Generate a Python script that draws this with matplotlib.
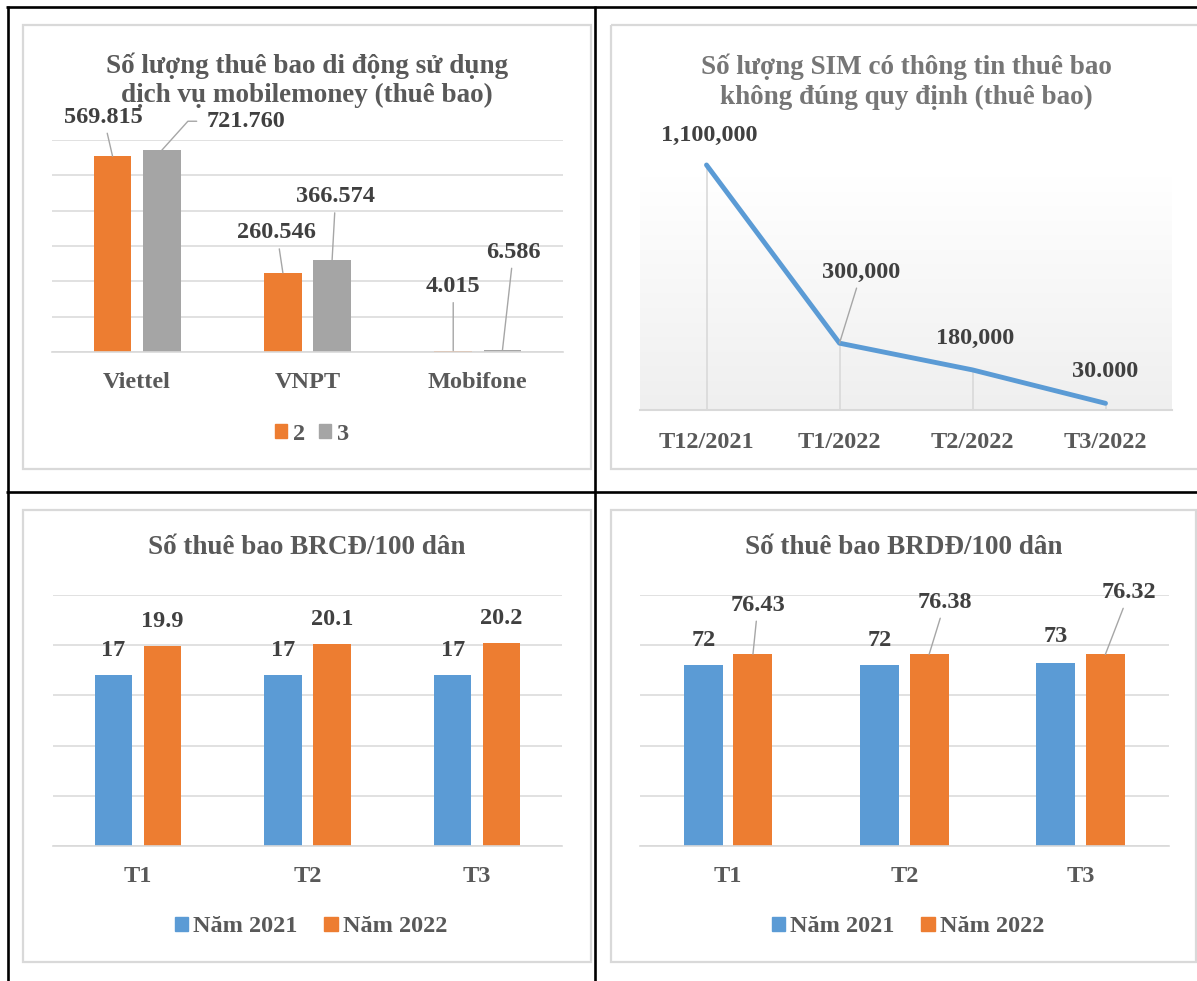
import matplotlib
matplotlib.use('Agg')
import matplotlib.pyplot as plt
import numpy as np
from matplotlib.patches import Patch, Rectangle
from matplotlib.colors import LinearSegmentedColormap

# ---------------- data ----------------
# Chart 1: mobile-money subscribers (bar heights, hidden axis units)
mm_categories = ['Viettel', 'VNPT', 'Mobifone']
mm_series = ['2', '3']
mm_heights_2 = [5.54, 2.24, 0.04]
mm_heights_3 = [5.71, 2.61, 0.05]
mm_labels_2 = ['569.815', '260.546', '4.015']
mm_labels_3 = ['721.760', '366.574', '6.586']

# Chart 2: SIMs with incorrect subscriber info
sim_months = ['T12/2021', 'T1/2022', 'T2/2022', 'T3/2022']
sim_values = [1100000, 300000, 180000, 30000]
sim_labels = ['1,100,000', '300,000', '180,000', '30.000']

# Chart 3 / 4
months = ['T1', 'T2', 'T3']
year_names = ['Năm 2021', 'Năm 2022']
brcd_2021 = [17, 17, 17]
brcd_2022 = [19.9, 20.1, 20.2]
brdd_2021 = [72, 72, 73]
brdd_2022 = [76.43, 76.38, 76.32]

# ---------------- style ----------------
ORANGE = '#ED7D31'
GREY = '#A5A5A5'
BLUE = '#5B9BD5'
GRID = '#D9D9D9'
TXT = '#595959'
LBL = '#404040'
LEADER = '#A6A6A6'
FS_TITLE = 19.5
FS = 17.5

plt.rcParams['font.family'] = ['Liberation Serif', 'DejaVu Serif']
plt.rcParams['font.weight'] = 'bold'

W, H = 1197, 981
fig = plt.figure(figsize=(W / 100, H / 100), dpi=100)
fig.patch.set_facecolor('white')

bg = fig.add_axes([0, 0, 1, 1])
bg.axis('off')


def axes_px(x0, y0, x1, y1):
    ax = fig.add_axes([x0 / W, 1 - y1 / H, (x1 - x0) / W, (y1 - y0) / H])
    ax.set_facecolor('none')
    return ax


def style_axes(ax, pad=14.5):
    for s in ['top', 'left', 'right']:
        ax.spines[s].set_visible(False)
    ax.spines['bottom'].set_color(GRID)
    ax.spines['bottom'].set_linewidth(1.2)
    ax.tick_params(axis='y', length=0, labelleft=False)
    ax.tick_params(axis='x', length=0, pad=pad, labelsize=FS, labelcolor=TXT)


def bar_chart(ax, cats, s1, s2, c1, c2, ymax, step, width, gap):
    x = np.arange(len(cats))
    off = (width + gap) / 2
    ax.bar(x - off, s1, width, color=c1, zorder=2)
    ax.bar(x + off, s2, width, color=c2, zorder=2)
    ax.set_xlim(-0.5, len(cats) - 0.5)
    ax.set_ylim(0, ymax)
    ax.set_yticks(np.arange(0, ymax + step / 2, step))
    ax.yaxis.grid(True, color=GRID, lw=1.1)
    ax.set_axisbelow(True)
    ax.set_xticks(x, cats)
    style_axes(ax)
    return x - off, x + off


def label(ax, x, y, text, dx, dy, leader=False, conn=None, relpos=(0.5, 0.5), shrinkA=2):
    arrow = None
    if leader:
        arrow = dict(arrowstyle='-', color=LEADER, lw=1.0, shrinkA=shrinkA, shrinkB=0,
                     relpos=relpos)
        if conn:
            arrow['connectionstyle'] = conn
    ax.annotate(text, xy=(x, y), xytext=(dx, dy), textcoords='offset pixels',
                ha='center', va='center', fontsize=FS, color=LBL, fontweight='bold',
                arrowprops=arrow, annotation_clip=False, zorder=5)


# ---------------- Chart 1 ----------------
ax1 = axes_px(52, 140, 563, 352)
x2, x3 = bar_chart(ax1, mm_categories, mm_heights_2, mm_heights_3, ORANGE, GREY,
                   6, 1, 0.22, 0.069)
off_2 = [(-9, 39), (-6, 40), (0, 64)]
off_3 = [(84, 29), (3.5, 63), (11, 98)]
for i in range(3):
    label(ax1, x2[i], mm_heights_2[i], mm_labels_2[i], *off_2[i], leader=True)
    if i == 0:
        label(ax1, x3[i], mm_heights_3[i], mm_labels_3[i], *off_3[i], leader=True,
              conn='angle,angleA=0,angleB=48,rad=0', relpos=(0, 0.5), shrinkA=5)
    else:
        label(ax1, x3[i], mm_heights_3[i], mm_labels_3[i], *off_3[i], leader=True)
fig.legend([Patch(color=ORANGE), Patch(color=GREY)], mm_series, loc='center',
           bbox_to_anchor=(312 / W, 1 - 434 / H), ncol=2, frameon=False,
           handlelength=0.5, handleheight=0.5, handletextpad=0.25, columnspacing=0.55,
           prop=dict(size=FS, weight='bold'), labelcolor=TXT)

# ---------------- Chart 2 ----------------
ax2 = axes_px(640, 177, 1172, 410)
xs = np.arange(len(sim_months))
grad = np.linspace(0, 1, 256).reshape(-1, 1)
cmap = LinearSegmentedColormap.from_list('g', ['#FFFFFF', '#EFEFEF'])
ax2.imshow(grad, extent=[0, 1, 0, 1], transform=ax2.transAxes, aspect='auto',
           cmap=cmap, origin='upper', zorder=0)
ax2.vlines(xs, 0, sim_values, color=GRID, lw=1.2, clip_on=False, zorder=1)
ax2.plot(xs, sim_values, color=BLUE, lw=3.5, solid_capstyle='round',
         solid_joinstyle='round', clip_on=False, zorder=3)
ax2.set_xlim(-0.5, len(sim_months) - 0.5)
ax2.set_ylim(0, 1.046e6)
ax2.set_yticks([])
ax2.set_xticks(xs, sim_months)
style_axes(ax2, pad=15.5)
ax2.spines['bottom'].set_linewidth(1.5)
off_sim = [(3, 30), (22, 71), (3, 31), (0, 32)]
for i in range(4):
    label(ax2, xs[i], sim_values[i], sim_labels[i], *off_sim[i], leader=(i == 1))

# ---------------- Chart 3 ----------------
ax3 = axes_px(53, 595, 562, 846)
b1, b2 = bar_chart(ax3, months, brcd_2021, brcd_2022, BLUE, ORANGE, 25, 5, 0.22, 0.069)
for i in range(3):
    label(ax3, b1[i], brcd_2021[i], f'{brcd_2021[i]:g}', 0, 25)
    label(ax3, b2[i], brcd_2022[i], f'{brcd_2022[i]:g}', 0, 25)
fig.legend([Patch(color=BLUE), Patch(color=ORANGE)], year_names, loc='center',
           bbox_to_anchor=(311 / W, 1 - 927 / H), ncol=2, frameon=False,
           handlelength=0.55, handleheight=0.55, handletextpad=0.22, columnspacing=1.1,
           prop=dict(size=FS, weight='bold'), labelcolor=TXT)

# ---------------- Chart 4 ----------------
ax4 = axes_px(640, 595, 1168.6, 846)
b1, b2 = bar_chart(ax4, months, brdd_2021, brdd_2022, BLUE, ORANGE, 100, 20, 0.221, 0.061)
off_4a = [(0, 25), (0, 25), (0, 26)]
off_4b = [(5, 49), (16, 52), (24, 62)]
for i in range(3):
    label(ax4, b1[i], brdd_2021[i], f'{brdd_2021[i]:g}', *off_4a[i])
    label(ax4, b2[i], brdd_2022[i], f'{brdd_2022[i]:g}', *off_4b[i], leader=True)
fig.legend([Patch(color=BLUE), Patch(color=ORANGE)], year_names, loc='center',
           bbox_to_anchor=(908 / W, 1 - 927 / H), ncol=2, frameon=False,
           handlelength=0.55, handleheight=0.55, handletextpad=0.22, columnspacing=1.1,
           prop=dict(size=FS, weight='bold'), labelcolor=TXT)

# ---------------- frames, table borders, titles ----------------
bg.set_xlim(0, W)
bg.set_ylim(H, 0)
for (x0, y0, x1, y1) in [(23, 25, 591, 469), (611, 25, 1220, 469),
                         (23, 510, 591, 962), (611, 510, 1196, 962)]:
    bg.add_patch(Rectangle((x0, y0), x1 - x0, y1 - y0, fill=False, ec=GRID, lw=1.6))
for (xa, xb, ya, yb) in [(8, 8, 6, 981), (6, 1197, 7, 7), (595, 595, 6, 981), (6, 1197, 492, 492)]:
    bg.plot([xa, xb], [ya, yb], color='black', lw=1.9, solid_capstyle='butt')

bg.text(307, 80, 'Số lượng thuê bao di động sử dụng\ndịch vụ mobilemoney (thuê bao)',
        ha='center', va='center', fontsize=FS_TITLE, color=TXT, linespacing=1.22)
bg.text(906, 81.5, 'Số lượng SIM có thông tin thuê bao\nkhông đúng quy định (thuê bao)',
        ha='center', va='center', fontsize=FS_TITLE, color='#767676', linespacing=1.28)
bg.text(307, 548, 'Số thuê bao BRCĐ/100 dân', ha='center', va='center',
        fontsize=FS_TITLE, color=TXT)
bg.text(904, 548, 'Số thuê bao BRDĐ/100 dân', ha='center', va='center',
        fontsize=FS_TITLE, color=TXT)

fig.savefig('out.png', dpi=100)
